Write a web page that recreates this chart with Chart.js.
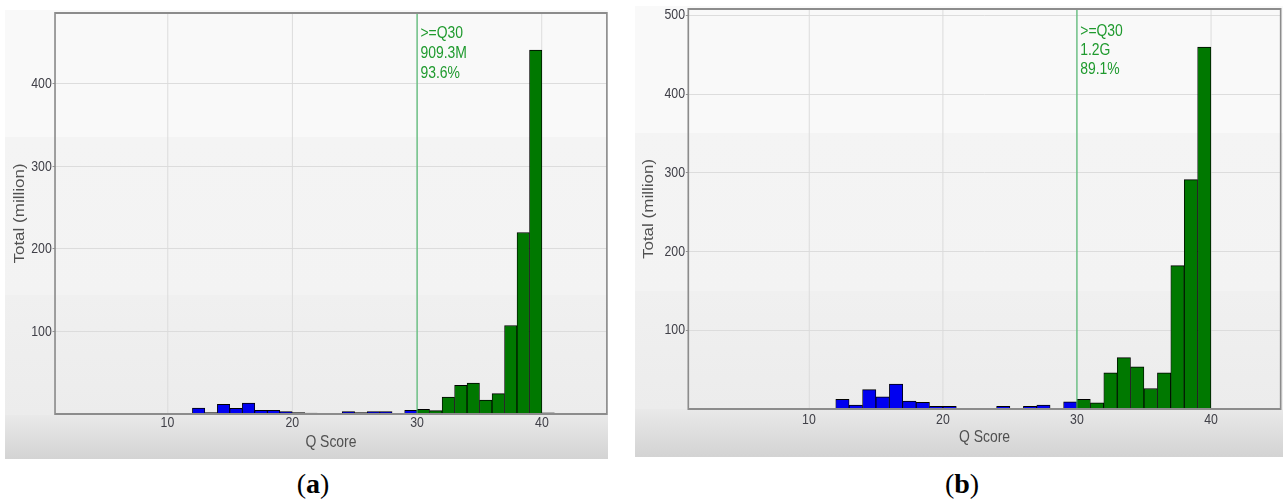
<!DOCTYPE html>
<html>
<head>
<meta charset="utf-8">
<title>Q Score distribution</title>
<script src="https://cdn.jsdelivr.net/npm/chart.js@4.4.1/dist/chart.umd.min.js"></script>
<style>
  html, body { margin: 0; padding: 0; background: #fff; width: 1283px; height: 502px; overflow: hidden; }
  body { position: relative; font-family: 'Liberation Sans', Arial, sans-serif; }
  .panel { position: absolute; overflow: hidden; }
  .panel canvas { position: absolute; left: 0; top: 0; }
  #panelA {
    left: 5px; top: 10px; width: 603px; height: 449px;
    background: linear-gradient(to bottom,
      #f9f9f9 0px, #f9f9f9 127px, #f4f4f4 127px, #f3f3f3 285px,
      #f0f0f0 285px, #ececec 405px, #e9e9e9 405px, #d3d3d3 449px);
  }
  #panelB {
    left: 635px; top: 6px; width: 648px; height: 451px;
    background: linear-gradient(to bottom,
      #f9f9f9 0px, #f9f9f9 127px, #f4f4f4 127px, #f3f3f3 285px,
      #f0f0f0 285px, #ececec 403px, #e9e9e9 403px, #d3d3d3 451px);
  }
  .cap {
    position: absolute; top: 470px; width: 100px; text-align: center;
    font-family: 'Liberation Serif', 'Times New Roman', serif; font-size: 28px;
    line-height: 28px; color: #000;
  }
</style>
</head>
<body>
<div class="panel" id="panelA"><canvas id="chartA" width="736" height="449"></canvas></div>
<div class="panel" id="panelB"><canvas id="chartB" width="791" height="451"></canvas></div>
<div class="cap" style="left:263px">(<b>a</b>)</div>
<div class="cap" style="left:912px">(<b>b</b>)</div>

<script>
// Histogram bins: each Q score q covers [q, q+1)
const qScores = [12, 13, 14, 15, 16, 17, 18, 19, 20, 21, 22, 23, 24, 25, 26,
                 27, 28, 29, 30, 31, 32, 33, 34, 35, 36, 37, 38, 39, 40];

// Reads per Q score, in millions
const totalsA = [7.3, 1.7, 11.7, 6.9, 13.3, 4.5, 4.5, 2.9, 1.7, 1, 0, 0, 2.9, 1.7, 2.9,
                 2.9, 0.8, 4.5, 5.7, 4.1, 20.6, 34.7, 37.5, 16.9, 24.7, 107.3, 220, 441, 1.5];
const totalsB = [12.4, 5.1, 24.7, 15.3, 31.8, 10.2, 8.6, 3.5, 3.5, 1, 0, 0, 3.5, 1, 3.5,
                 5.1, 0.5, 9, 12.4, 7.7, 45.8, 65.3, 53.4, 26, 45.8, 182, 291.4, 459.7, 1];

// Axis ticks
const xTicks = [10, 20, 30, 40];
const yTicksA = [100, 200, 300, 400];
const yTicksB = [100, 200, 300, 400, 500];

// Q30 summary labels
const q30LabelsA = ['>=Q30', '909.3M', '93.6%'];
const q30LabelsB = ['>=Q30', '1.2G', '89.1%'];

const Q_CUT = 30;
const X_MIN = 1, X_MAX = 45.2;

const FONT = "'Liberation Sans', Arial, sans-serif";
const BLUE = '#0000f0';
const GREEN = '#007800';
const GRID = '#dadada';
const TICK_COLOR = '#404048';
const TITLE_COLOR = '#505050';
const CUT_LINE = '#4cb86c';
const CUT_TEXT = '#1f9a2e';
const FRAME = '#8c8c8c';
const SQUEEZE = 0.82;   // horizontal compression of the whole drawing

// Compress every drawing operation horizontally
const squeezePlugin = {
  id: 'squeeze',
  beforeDraw(chart) { chart.ctx.save(); chart.ctx.scale(SQUEEZE, 1); },
  afterDraw(chart) { chart.ctx.restore(); }
};

// Q30 cut line, its labels and the plot frame
const cutPlugin = {
  id: 'cutLine',
  afterDatasetsDraw(chart, args, opts) {
    const { ctx, chartArea: a, scales: { x } } = chart;
    const px = x.getPixelForValue(Q_CUT);
    ctx.save();
    ctx.strokeStyle = CUT_LINE;
    ctx.lineWidth = 1.4;
    ctx.beginPath();
    ctx.moveTo(px, a.top);
    ctx.lineTo(px, a.bottom);
    ctx.stroke();

    ctx.fillStyle = CUT_TEXT;
    ctx.font = '17px ' + FONT;
    ctx.textAlign = 'left';
    ctx.textBaseline = 'middle';
    opts.labels.forEach((t, i) => {
      ctx.fillText(t, px + 4, a.top + opts.textTop + i * opts.textStep);
    });

    ctx.strokeStyle = FRAME;
    ctx.lineWidth = 2;
    ctx.strokeRect(a.left, a.top, a.right - a.left, a.bottom - a.top);
    ctx.restore();
  }
};

function buildPanel(id, p) {
  return new Chart(document.getElementById(id), {
    type: 'bar',
    data: {
      datasets: [{
        data: qScores.map((q, i) => ({ x: q + 0.5, y: p.values[i] })),
        backgroundColor: qScores.map(q => (q < Q_CUT ? BLUE : GREEN)),
        borderColor: '#000',
        borderWidth: 1,
        barPercentage: 1,
        categoryPercentage: 1,
        grouped: false
      }]
    },
    options: {
      responsive: false,
      animation: false,
      devicePixelRatio: 1,
      events: [],
      layout: { padding: { left: 0, top: p.padTop, right: p.padRight, bottom: 0 } },
      plugins: {
        legend: { display: false },
        tooltip: { enabled: false },
        cutLine: { labels: p.labels, textTop: p.textTop, textStep: p.textStep }
      },
      scales: {
        x: {
          type: 'linear',
          offset: false,
          min: X_MIN,
          max: X_MAX,
          afterBuildTicks: s => { s.ticks = xTicks.map(v => ({ value: v })); },
          afterFit: s => { s.height = p.xAxisH; s.paddingLeft = 0; s.paddingRight = 0; },
          border: { display: false },
          grid: { color: GRID, lineWidth: 1, drawTicks: false, offset: false },
          ticks: {
            padding: p.xTickPad, color: TICK_COLOR, maxRotation: 0, autoSkip: false,
            font: { family: FONT, size: 15 }
          },
          title: {
            display: true, text: 'Q Score', color: TITLE_COLOR,
            font: { family: FONT, size: 17 },
            padding: { top: 0, bottom: p.xTitlePad }
          }
        },
        y: {
          min: 0,
          max: p.yMax,
          afterBuildTicks: s => { s.ticks = p.yTicks.map(v => ({ value: v })); },
          afterFit: s => { s.width = p.yAxisW; s.paddingTop = 0; s.paddingBottom = 0; },
          border: { display: false },
          grid: { color: GRID, lineWidth: 1, tickLength: 3, tickColor: '#888' },
          ticks: {
            padding: 1, color: TICK_COLOR,
            font: { family: FONT, size: 15 }
          },
          title: {
            display: true, text: 'Total (million)', color: TITLE_COLOR,
            font: { family: FONT, size: 17 },
            padding: { top: p.yTitlePad, bottom: 0 }
          }
        }
      }
    },
    plugins: [squeezePlugin, cutPlugin]
  });
}

buildPanel('chartA', {
  values: totalsA, yTicks: yTicksA, yMax: 486, labels: q30LabelsA,
  padTop: 3, padRight: 2, yAxisW: 61, xAxisH: 45,
  xTickPad: 0, xTitlePad: 6, yTitlePad: 8, textTop: 20, textStep: 20
});

buildPanel('chartB', {
  values: totalsB, yTicks: yTicksB, yMax: 508, labels: q30LabelsB,
  padTop: 3, padRight: 3.6, yAxisW: 65, xAxisH: 48,
  xTickPad: 2, xTitlePad: 9.5, yTitlePad: 6.5, textTop: 22.5, textStep: 19
});
</script>
</body>
</html>
